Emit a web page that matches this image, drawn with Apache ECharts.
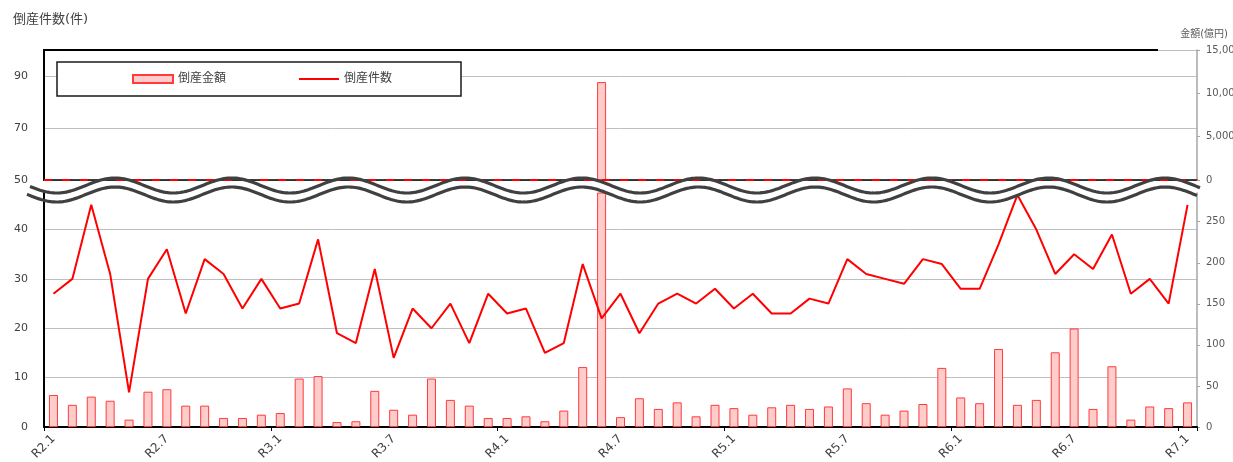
<!DOCTYPE html>
<html>
<head>
<meta charset="utf-8">
<script src="https://cdn.jsdelivr.net/npm/echarts@6/dist/echarts.min.js"></script>
<style>
html, body { margin: 0; padding: 0; background: #fff; }
#main { width: 1233px; height: 462px; }
</style>
</head>
<body>
<div id="main"></div>
<script>
// 月 (令和)
const months = [
    'R2.1','R2.2','R2.3','R2.4','R2.5','R2.6','R2.7','R2.8','R2.9','R2.10','R2.11','R2.12',
    'R3.1','R3.2','R3.3','R3.4','R3.5','R3.6','R3.7','R3.8','R3.9','R3.10','R3.11','R3.12',
    'R4.1','R4.2','R4.3','R4.4','R4.5','R4.6','R4.7','R4.8','R4.9','R4.10','R4.11','R4.12',
    'R5.1','R5.2','R5.3','R5.4','R5.5','R5.6','R5.7','R5.8','R5.9','R5.10','R5.11','R5.12',
    'R6.1','R6.2','R6.3','R6.4','R6.5','R6.6','R6.7','R6.8','R6.9','R6.10','R6.11','R6.12',
    'R7.1'
];
// 倒産件数(件)
const countData = [
    27, 30, 45, 31, 7, 30, 36, 23, 34, 31, 24, 30,
    24, 25, 38, 19, 17, 32, 14, 24, 20, 25, 17, 27,
    23, 24, 15, 17, 33, 22, 27, 19, 25, 27, 25, 28,
    24, 27, 23, 23, 26, 25, 34, 31, 30, 29, 34, 33,
    28, 28, 37, 47, 40, 31, 35, 32, 39, 27, 30, 25,
    45
];
// 倒産金額(億円)
const amountData = [
    39, 27, 37, 32, 9, 43, 46, 26, 26, 11, 11, 15,
    17, 59, 62, 6, 7, 44, 21, 15, 59, 33, 26, 11,
    11, 13, 7, 20, 73, 11300, 12, 35, 22, 30, 13, 27,
    23, 15, 24, 27, 22, 25, 47, 29, 15, 20, 28, 72,
    36, 29, 95, 27, 33, 91, 120, 22, 74, 9, 25, 23,
    30
];

const font = "'DejaVu Sans', 'Noto Sans CJK JP', sans-serif";
const lowerCountMax = 47.4;   // 波線の下の範囲
const lowerAmountMax = 285;
const gridColor = '#BFBFBF';

// 省略線 (波線)
function wave (centerY, x0, x1) {
    const pts = [];
    for (let x = x0; x <= x1; x += 2) {
        pts.push([x, centerY - 7.5 * Math.cos(2 * Math.PI * (x - 115) / 116.7)]);
    }
    return pts;
}

const barStyle = { color: '#FFCCCC', borderColor: '#FF3B3B', borderWidth: 1 };

const chart = echarts.init(document.getElementById('main'));
chart.setOption({
    animation: false,
    textStyle: { fontFamily: font },
    title: [
        { text: '倒産件数(件)', left: 8, top: 8, textStyle: { fontSize: 13, fontWeight: 'normal', color: '#404040', fontFamily: font } },
        { text: '金額(億円)', right: 0, top: 24, textStyle: { fontSize: 10, fontWeight: 'normal', color: '#595959', fontFamily: font } }
    ],
    legend: {
        left: 57, top: 62,
        padding: [11, 69, 11, 75],
        itemGap: 73, itemWidth: 40, itemHeight: 8,
        backgroundColor: '#fff', borderColor: '#1a1a1a', borderWidth: 1.5,
        textStyle: { fontSize: 12, color: '#404040', fontFamily: font },
        data: [
            { name: '倒産金額', icon: 'rect' },
            { name: '倒産件数', icon: 'path://M0,0H40V2H0Z' }
        ]
    },
    grid: [
        { left: 44, right: 36, top: 193, bottom: 35, containLabel: false, outerBoundsMode: 'none' },
        { left: 44, right: 36, top: 50, height: 130, containLabel: false, outerBoundsMode: 'none' }
    ],
    xAxis: [
        {
            type: 'category', gridIndex: 0, data: months,
            axisLine: { lineStyle: { color: '#000', width: 2 } },
            axisTick: { show: true, interval: 11, length: 4, lineStyle: { color: '#000' } },
            axisLabel: { interval: 5, rotate: 45, margin: 10, fontSize: 12, color: '#404040', fontFamily: font }
        },
        {
            type: 'category', gridIndex: 1, data: months,
            axisLine: { lineStyle: { color: '#000', width: 1.5 } },
            axisTick: { show: false }, axisLabel: { show: false }
        }
    ],
    yAxis: [
        {
            type: 'value', gridIndex: 0, position: 'left', min: 0, max: lowerCountMax, interval: 10,
            axisLine: { show: true, lineStyle: { color: '#000', width: 2 } },
            axisTick: { show: false },
            axisLabel: { showMaxLabel: false, fontSize: 11, color: '#404040', margin: 16, fontFamily: font },
            splitLine: { lineStyle: { color: gridColor }, showMaxLine: false }
        },
        {
            type: 'value', gridIndex: 0, position: 'right', min: 0, max: lowerAmountMax, interval: 50,
            axisLine: { show: true, lineStyle: { color: '#A6A6A6', width: 1.5 } },
            axisTick: { show: true, length: 3, lineStyle: { color: '#A6A6A6' } },
            axisLabel: { showMaxLabel: false, fontSize: 10, color: '#595959', margin: 9, fontFamily: font },
            splitLine: { show: false }
        },
        {
            type: 'value', gridIndex: 1, position: 'left', min: 0, max: 50, interval: 20,
            axisLine: { show: true, lineStyle: { color: '#000', width: 2 } },
            axisTick: { show: false },
            axisLabel: { showMaxLabel: false, fontSize: 11, color: '#404040', margin: 16, fontFamily: font,
                formatter: v => String(v + 50) },
            splitLine: { lineStyle: { color: gridColor } }
        },
        {
            type: 'value', gridIndex: 1, position: 'right', min: 0, max: 15000, interval: 5000,
            axisLine: { show: true, lineStyle: { color: '#A6A6A6', width: 1.5 } },
            axisTick: { show: true, length: 3, lineStyle: { color: '#A6A6A6' } },
            axisLabel: { fontSize: 10, color: '#595959', margin: 9, fontFamily: font,
                formatter: v => v.toLocaleString('en-US') },
            splitLine: { show: false }
        }
    ],
    series: [
        {
            name: '倒産金額', type: 'bar', xAxisIndex: 0, yAxisIndex: 1,
            data: amountData, barWidth: 9, clip: true, itemStyle: barStyle
        },
        {
            name: '倒産金額', type: 'bar', xAxisIndex: 1, yAxisIndex: 3,
            data: amountData.map(v => v > lowerAmountMax ? v : null),
            barWidth: 9, clip: true, itemStyle: barStyle,
            markLine: {
                silent: true, symbol: 'none', label: { show: false },
                lineStyle: { color: '#FF0000', type: [8, 10], width: 2 },
                data: [{ yAxis: 0 }]
            }
        },
        {
            name: '倒産件数', type: 'line', xAxisIndex: 0, yAxisIndex: 0,
            data: countData, symbol: 'none', z: 5,
            lineStyle: { color: '#FF0000', width: 2 }, itemStyle: { color: '#FF0000' }
        }
    ],
    graphic: [
        { type: 'line', z: 50, shape: { x1: 43, y1: 50, x2: 1158, y2: 50 }, style: { stroke: '#000', lineWidth: 2 } },
        { type: 'polyline', z: 100, shape: { points: wave(185.5, 30, 1200) }, style: { stroke: '#404040', lineWidth: 3.2, fill: null } },
        { type: 'polyline', z: 100, shape: { points: wave(194.5, 27, 1198) }, style: { stroke: '#404040', lineWidth: 3.2, fill: null } }
    ]
});
</script>
</body>
</html>
